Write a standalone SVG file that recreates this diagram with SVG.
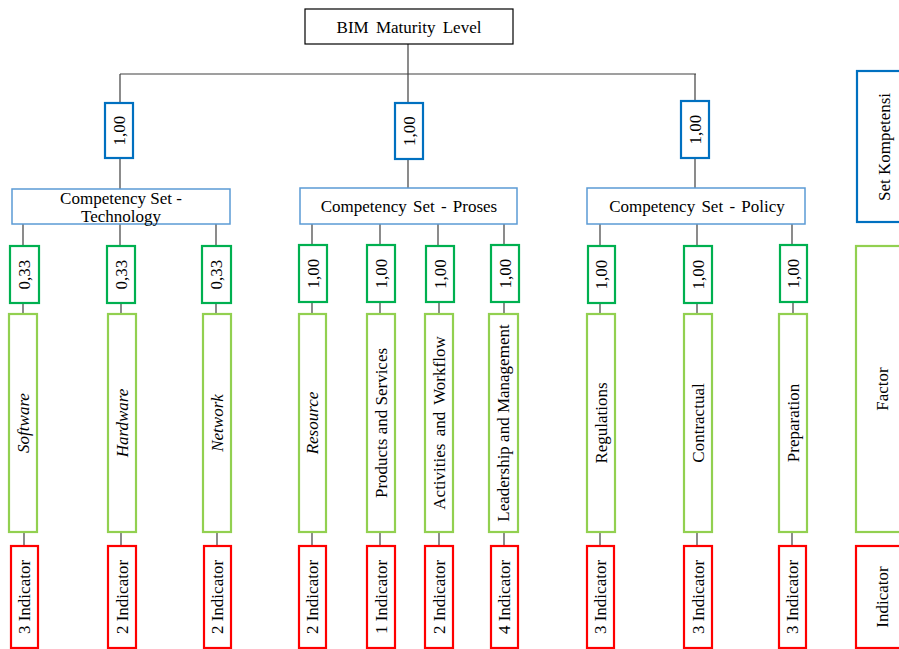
<svg xmlns="http://www.w3.org/2000/svg" width="899" height="649" viewBox="0 0 899 649">
<style>
.c{text-anchor:middle;dominant-baseline:central;}
.it{font-style:italic;}
.top{fill:#fff;stroke:#000;stroke-width:1.2;}
.wb{fill:#fff;stroke:#0070C0;stroke-width:2.2;}
.cs{fill:#fff;stroke:#5B9BD5;stroke-width:1.5;}
.wg{fill:#fff;stroke:#00B050;stroke-width:2.2;}
.f{fill:#fff;stroke:#92D050;stroke-width:2.2;}
.ind{fill:#fff;stroke:#FF0000;stroke-width:2.2;}
.ln{stroke:#404040;stroke-width:1.2;fill:none;}
</style>
<g font-family="Liberation Serif, Times New Roman, serif" font-size="17" fill="#000">
<g id="connectors" class="ln">
<path d="M408 44V74M120 74H696M120 74V103M408 74V103M695 74V101"/>
<path d="M120 158V189M408 159V188M695 158V188"/>
<path d="M23 224V246M120 224V246M216 224V246M312 224V246M380 224V246M438 224V246M504 224V246M600 224V246M697 224V246M792 224V246"/>
<path d="M23 303V314M121 303V314M216 303V314M312 303V314M380 303V314M439 303V314M504 303V314M600 303V314M697 303V314M793 303V314"/>
<path d="M24 532V546M121 532V546M217 532V546M312 532V546M380 532V546M439 532V546M504 532V546M600 532V546M697 532V546M792 532V546"/>
</g>
<g id="root"><rect class="top" x="305" y="9" width="208" height="35"/><text class="c" x="409" y="27" word-spacing="3">BIM Maturity Level</text></g>
<g id="w-tech"><rect class="wb" x="105" y="103" width="28" height="55"/><text class="c" transform="translate(119,130.5) rotate(-90)">1,00</text></g>
<g id="w-proses"><rect class="wb" x="395" y="103" width="28" height="56"/><text class="c" transform="translate(409,131) rotate(-90)">1,00</text></g>
<g id="w-policy"><rect class="wb" x="681" y="101" width="28" height="57"/><text class="c" transform="translate(695,129.5) rotate(-90)">1,00</text></g>
<g id="cs-tech"><rect class="cs" x="12" y="189" width="218" height="35"/><text x="121" y="204" text-anchor="middle">Competency Set -</text><text x="121" y="222" text-anchor="middle">Technology</text></g>
<g id="cs-proses"><rect class="cs" x="300" y="188" width="217" height="36"/><text class="c" x="409" y="206" word-spacing="2">Competency Set - Proses</text></g>
<g id="cs-policy"><rect class="cs" x="587" y="188" width="218" height="36"/><text class="c" x="697" y="206" word-spacing="2">Competency Set - Policy</text></g>
<g id="legend-set"><rect class="wb" x="857" y="71" width="60" height="151"/><text class="c" transform="translate(884,147) rotate(-90)">Set Kompetensi</text></g>
<g id="legend-factor"><rect class="f" x="856" y="246" width="60" height="286"/><text class="c" transform="translate(882,389) rotate(-90)">Factor</text></g>
<g id="legend-indicator"><rect class="ind" x="856" y="546" width="60" height="102"/><text class="c" transform="translate(882,597) rotate(-90)">Indicator</text></g>
<g id="wg1"><rect class="wg" x="10" y="246" width="29" height="57"/><text class="c" transform="translate(24.5,274.5) rotate(-90)">0,33</text></g>
<g id="wg2"><rect class="wg" x="107" y="246" width="28" height="57"/><text class="c" transform="translate(121,274.5) rotate(-90)">0,33</text></g>
<g id="wg3"><rect class="wg" x="202" y="246" width="29" height="57"/><text class="c" transform="translate(216.5,274.5) rotate(-90)">0,33</text></g>
<g id="wg4"><rect class="wg" x="299" y="245" width="28" height="57"/><text class="c" transform="translate(313,273.5) rotate(-90)">1,00</text></g>
<g id="wg5"><rect class="wg" x="367" y="245" width="28" height="57"/><text class="c" transform="translate(381,273.5) rotate(-90)">1,00</text></g>
<g id="wg6"><rect class="wg" x="426" y="246" width="28" height="56"/><text class="c" transform="translate(440,274) rotate(-90)">1,00</text></g>
<g id="wg7"><rect class="wg" x="491" y="245" width="28" height="57"/><text class="c" transform="translate(505,273.5) rotate(-90)">1,00</text></g>
<g id="wg8"><rect class="wg" x="588" y="246" width="27" height="57"/><text class="c" transform="translate(601.5,274.5) rotate(-90)">1,00</text></g>
<g id="wg9"><rect class="wg" x="684" y="246" width="28" height="57"/><text class="c" transform="translate(698,274.5) rotate(-90)">1,00</text></g>
<g id="wg10"><rect class="wg" x="780" y="245" width="27" height="57"/><text class="c" transform="translate(793.5,273.5) rotate(-90)">1,00</text></g>
<g id="f1"><rect class="f" x="9" y="314" width="28" height="218"/><text class="c it" transform="translate(23,423) rotate(-90)">Software</text></g>
<g id="f2"><rect class="f" x="108" y="314" width="28" height="218"/><text class="c it" transform="translate(122,423) rotate(-90)">Hardware</text></g>
<g id="f3"><rect class="f" x="203" y="314" width="28" height="218"/><text class="c it" transform="translate(217,423) rotate(-90)">Network</text></g>
<g id="f4"><rect class="f" x="299" y="314" width="27" height="218"/><text class="c it" transform="translate(312.5,423) rotate(-90)">Resource</text></g>
<g id="f5"><rect class="f" x="367" y="314" width="28" height="218"/><text class="c" transform="translate(381,423) rotate(-90)">Products and Services</text></g>
<g id="f6"><rect class="f" x="425" y="314" width="28" height="218"/><text class="c" transform="translate(439,423) rotate(-90)" word-spacing="3">Activities and Workflow</text></g>
<g id="f7"><rect class="f" x="489" y="314" width="29" height="218"/><text class="c" transform="translate(503.5,423) rotate(-90)">Leadership and Management</text></g>
<g id="f8"><rect class="f" x="587" y="314" width="28" height="218"/><text class="c" transform="translate(601,423) rotate(-90)">Regulations</text></g>
<g id="f9"><rect class="f" x="684" y="314" width="28" height="218"/><text class="c" transform="translate(698,423) rotate(-90)">Contractual</text></g>
<g id="f10"><rect class="f" x="779" y="314" width="28" height="218"/><text class="c" transform="translate(793,423) rotate(-90)">Preparation</text></g>
<g id="i1"><rect class="ind" x="11" y="546" width="27" height="102"/><text class="c" transform="translate(24.5,597) rotate(-90)">3 Indicator</text></g>
<g id="i2"><rect class="ind" x="108" y="546" width="28" height="102"/><text class="c" transform="translate(122,597) rotate(-90)">2 Indicator</text></g>
<g id="i3"><rect class="ind" x="204" y="546" width="27" height="102"/><text class="c" transform="translate(217.5,597) rotate(-90)">2 Indicator</text></g>
<g id="i4"><rect class="ind" x="299" y="546" width="27" height="102"/><text class="c" transform="translate(312.5,597) rotate(-90)">2 Indicator</text></g>
<g id="i5"><rect class="ind" x="367" y="546" width="28" height="102"/><text class="c" transform="translate(381,597) rotate(-90)">1 Indicator</text></g>
<g id="i6"><rect class="ind" x="425" y="546" width="28" height="102"/><text class="c" transform="translate(439,597) rotate(-90)">2 Indicator</text></g>
<g id="i7"><rect class="ind" x="491" y="546" width="27" height="102"/><text class="c" transform="translate(504.5,597) rotate(-90)">4 Indicator</text></g>
<g id="i8"><rect class="ind" x="587" y="546" width="27" height="102"/><text class="c" transform="translate(600.5,597) rotate(-90)">3 Indicator</text></g>
<g id="i9"><rect class="ind" x="684" y="546" width="28" height="102"/><text class="c" transform="translate(698,597) rotate(-90)">3 Indicator</text></g>
<g id="i10"><rect class="ind" x="779" y="546" width="27" height="102"/><text class="c" transform="translate(792.5,597) rotate(-90)">3 Indicator</text></g>
</g>
</svg>
